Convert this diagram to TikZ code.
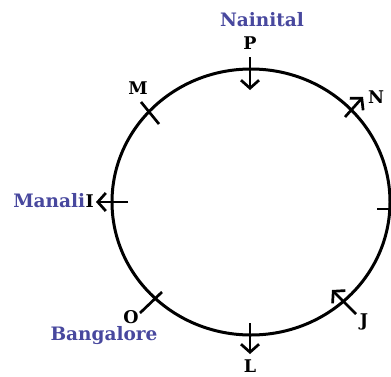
\documentclass[tikz,border=0pt]{standalone}
\usepackage{fontspec}
\setmainfont{DejaVu Serif}
\usetikzlibrary{arrows.meta,shapes.geometric}
\definecolor{cityblue}{RGB}{72,72,158}
\begin{document}
\begin{tikzpicture}[x=1pt,y=1pt,
  ring/.style={ellipse,draw,line width=3pt,minimum width=278pt,minimum height=266pt,inner sep=0pt},
  tick/.style={line width=2.7pt},
  arr/.style={line width=2.7pt,-{Straight Barb[length=8pt,width=18pt]}},
  letter/.style={font=\bfseries\fontsize{17.5}{17.5}\selectfont,inner sep=0pt},
  city/.style={font=\bfseries\fontsize{18.5}{18.5}\selectfont,text=cityblue,inner sep=0pt}]
\useasboundingbox (0,0) rectangle (391,376);
\clip (0,0) rectangle (391,376);
\node[ring] (circ) at (251,174) {};
% P
\coordinate (pa) at (250,319); \coordinate (pb) at (250,286);
\draw[arr] (pa) -- (pb);
\node[letter] (P) at (250,333) {P};
\node[city] (nainital) at (262,356) {Nainital};
% M
\coordinate (ma) at (141,274); \coordinate (mb) at (159,252);
\draw[tick] (ma) -- (mb);
\node[letter] (M) at (138,288) {M};
% N
\coordinate (na) at (345,259); \coordinate (nb) at (363,279);
\draw[arr] (na) -- (nb);
\node[letter] (N) at (376,279) {N};
% I
\coordinate (ia) at (128,174); \coordinate (ib) at (96,174);
\draw[arr] (ia) -- (ib);
\node[letter,anchor=east] (I) at (94,175) {I};
\node[city,anchor=east] (manali) at (I.west) {Manali};
% right tick
\coordinate (ra) at (377,167); \coordinate (rb) at (396,167);
\draw[tick] (ra) -- (rb);
% O
\coordinate (oa) at (140,63); \coordinate (ob) at (162,84);
\draw[tick] (oa) -- (ob);
\node[letter] (O) at (131,59) {O};
\node[city] (bangalore) at (104,40) {Bangalore};
% J
\coordinate (ja) at (356,62); \coordinate (jb) at (332,86);
\draw[arr] (ja) -- (jb);
\node[letter] (J) at (364,54) {J};
% L
\coordinate (la) at (250,53); \coordinate (lb) at (250,22);
\draw[arr] (la) -- (lb);
\node[letter] (L) at (250,10) {L};
\end{tikzpicture}
\end{document}
